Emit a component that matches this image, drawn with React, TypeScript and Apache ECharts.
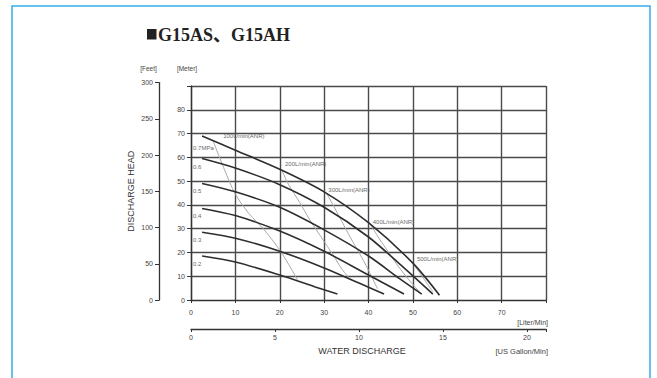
import React, { useEffect, useRef } from 'react';
import * as echarts from 'echarts';

// ---- data (L/min, metre) ----
const pressureNames = ['0.7MPa', '0.6', '0.5', '0.4', '0.3', '0.2'];
const p07 = [[2.5, 69], [10, 63], [20, 55], [30, 45.5], [40, 32.5], [50, 15.5], [56, 2]];
const p06 = [[2.5, 59.5], [10, 55.5], [20, 48.5], [30, 39], [40, 26.5], [48, 13.5], [54.5, 2.5]];
const p05 = [[2.5, 49], [10, 45.5], [20, 39], [30, 29.5], [40, 18.5], [47, 9], [52, 2.5]];
const p04 = [[2.5, 38.5], [10, 35.5], [20, 29], [30, 20.5], [40, 10.5], [48, 2.5]];
const p03 = [[2.5, 28.5], [10, 26], [20, 20.5], [30, 13.5], [38, 7], [43.5, 2.5]];
const p02 = [[2.5, 18.5], [10, 16], [20, 10.5], [28, 5.5], [33, 2.5]];

const airNames = ['100L/min(ANR)', '200L/min(ANR)', '300L/min(ANR)', '400L/min(ANR)', '500L/min(ANR)'];
const a100 = [[5, 66.8], [7.5, 55], [10, 44.5], [13, 36.5], [16.5, 29.5], [20, 21], [22, 15], [24, 8.5]];
const a200 = [[20.5, 54.5], [22, 48.5], [24.5, 41], [27, 33], [29.5, 26], [32, 19], [34, 13], [36, 8.5]];
const a300 = [[30.5, 45], [32, 40], [34, 33], [36, 26], [38, 19.5], [40, 12.5], [42, 4.8]];
const a400 = [[40.5, 31.7], [42, 27], [44, 21.5], [46, 16], [48, 11], [50, 6.5], [51.5, 3.5]];
const a500 = [[50, 15.5], [51.5, 11.5], [53, 7.5], [54.5, 3.5]];

const literMax = 80;
const literPerGallon = 3.785;
const meterMax = 90;
const feetMax = 300;

const FONT = '"Liberation Sans", Arial, sans-serif';

export default function App() {
  const ref = useRef<HTMLDivElement>(null);
  useEffect(() => {
    if (!ref.current) return;
    const chart = echarts.init(ref.current, null, { renderer: 'svg' });
    const pressure = [p07, p06, p05, p04, p03, p02];
    const air = [a100, a200, a300, a400, a500];
    const pOff = [[-9, 12], [-9, 8], [-9, 8], [-9, 8], [-9, 8], [-9, 8]];
    const aOff = [[10, -5], [3, -6], [2, -3], [2, -3], [4, -4]];

    const mkData = (d: number[][], name: string, off: number[]) =>
      d.map((pt, j) =>
        j === 0
          ? {
              value: pt,
              label: {
                show: true,
                formatter: name,
                position: 'inside',
                align: 'left',
                verticalAlign: 'middle',
                offset: off,
                fontSize: 6,
                color: '#6a6a6a',
                fontFamily: FONT,
              },
            }
          : { value: pt, label: { show: false } }
      );

    const series: any[] = [];
    air.forEach((d, i) => {
      series.push({
        type: 'line',
        xAxisIndex: 0,
        yAxisIndex: 0,
        data: mkData(d, airNames[i], aOff[i]),
        smooth: 0.3,
        symbol: 'circle',
        symbolSize: 0.1,
        showSymbol: true,
        showAllSymbol: true,
        itemStyle: { color: 'rgba(0,0,0,0)' },
        lineStyle: { color: '#a8a8a8', width: 1 },
        z: 3,
      });
    });
    pressure.forEach((d, i) => {
      series.push({
        type: 'line',
        xAxisIndex: 0,
        yAxisIndex: 0,
        data: mkData(d, pressureNames[i], pOff[i]),
        smooth: 0.3,
        symbol: 'circle',
        symbolSize: 0.1,
        showSymbol: true,
        showAllSymbol: true,
        itemStyle: { color: 'rgba(0,0,0,0)' },
        lineStyle: { color: '#2e2e2e', width: 1.6 },
        z: 4,
      });
    });

    const axisLine = { show: true, lineStyle: { color: '#333', width: 1.3 } };
    const axisTick = { show: true, length: 3, lineStyle: { color: '#333', width: 1 } };
    const lbl = { fontSize: 7, color: '#444', fontFamily: FONT };

    chart.setOption({
      animation: false,
      backgroundColor: '#fff',
      grid: [
        { left: 191, right: 111, top: 86, bottom: 78 },
        { left: 159, width: 10, top: 82.6, bottom: 78 },
      ],
      xAxis: [
        {
          type: 'value', gridIndex: 0, min: 0, max: literMax, interval: 10, position: 'bottom', offset: 4,
          axisLine, axisTick,
          axisLabel: { ...lbl, margin: 5, formatter: (v: number) => (v === literMax ? '' : String(v)) },
          splitLine: { show: true, lineStyle: { color: '#4a4a4a', width: 1.4 } },
        },
        {
          type: 'value', gridIndex: 0, min: 0, max: literMax / literPerGallon, interval: 5, position: 'bottom', offset: 29,
          axisLine, axisTick,
          axisLabel: { ...lbl, margin: 5, showMaxLabel: true, formatter: (v: number) => (Math.abs(v % 5) < 1e-6 ? String(v) : '') },
          splitLine: { show: false },
        },
        { type: 'value', gridIndex: 1, show: false, min: 0, max: 1 },
      ],
      yAxis: [
        {
          type: 'value', gridIndex: 0, min: 0, max: meterMax, interval: 10, position: 'left',
          axisLine, axisTick: { ...axisTick, length: 4 },
          axisLabel: { ...lbl, margin: 6, formatter: (v: number) => (v === meterMax ? '' : String(v)) },
          splitLine: { show: true, showMinLine: false, lineStyle: { color: '#4a4a4a', width: 1.4 } },
        },
        {
          type: 'value', gridIndex: 1, min: 0, max: feetMax, interval: 50, position: 'left',
          axisLine, axisTick: { ...axisTick, length: 4 },
          axisLabel: { ...lbl, margin: 6 },
          splitLine: { show: false },
          name: 'DISCHARGE HEAD', nameLocation: 'middle', nameGap: 24, nameRotate: 90,
          nameTextStyle: { fontSize: 9, color: '#333', fontFamily: FONT },
        },
      ],
      graphic: [
        {
          type: 'rect', silent: true, z: -10,
          shape: { x: 12, y: 6, width: 638, height: 400 },
          style: { fill: 'none', stroke: '#35aee6', lineWidth: 1.5 },
        },
        {
          type: 'rect', silent: true,
          shape: { x: 147, y: 29, width: 9.5, height: 10.5 },
          style: { fill: '#222' },
        },
        {
          type: 'text', x: 158, y: 34.5,
          style: {
            text: 'G15AS、G15AH', fill: '#222',
            font: 'bold 18px "Liberation Serif", "Noto Sans CJK SC", serif',
            textVerticalAlign: 'middle', verticalAlign: 'middle',
          },
        },
        {
          type: 'text', x: 148.5, y: 68,
          style: { text: '[Feet]', fill: '#444', font: `6.5px ${FONT}`, textAlign: 'center', align: 'center', textVerticalAlign: 'middle', verticalAlign: 'middle' },
        },
        {
          type: 'text', x: 187, y: 68,
          style: { text: '[Meter]', fill: '#444', font: `6.5px ${FONT}`, textAlign: 'center', align: 'center', textVerticalAlign: 'middle', verticalAlign: 'middle' },
        },
        {
          type: 'text', x: 548, y: 322,
          style: { text: '[Liter/Min]', fill: '#444', font: `7px ${FONT}`, textAlign: 'right', align: 'right', textVerticalAlign: 'middle', verticalAlign: 'middle' },
        },
        {
          type: 'text', x: 548, y: 351,
          style: { text: '[US Gallon/Min]', fill: '#444', font: `7.5px ${FONT}`, textAlign: 'right', align: 'right', textVerticalAlign: 'middle', verticalAlign: 'middle' },
        },
        {
          type: 'text', x: 362, y: 351,
          style: { text: 'WATER DISCHARGE', fill: '#333', font: `9px ${FONT}`, textAlign: 'center', align: 'center', textVerticalAlign: 'middle', verticalAlign: 'middle' },
        },
      ],
      series,
    });
    return () => chart.dispose();
  }, []);
  return <div ref={ref} style={{ position: 'absolute', left: 0, top: 0, width: 657, height: 378 }} />;
}
